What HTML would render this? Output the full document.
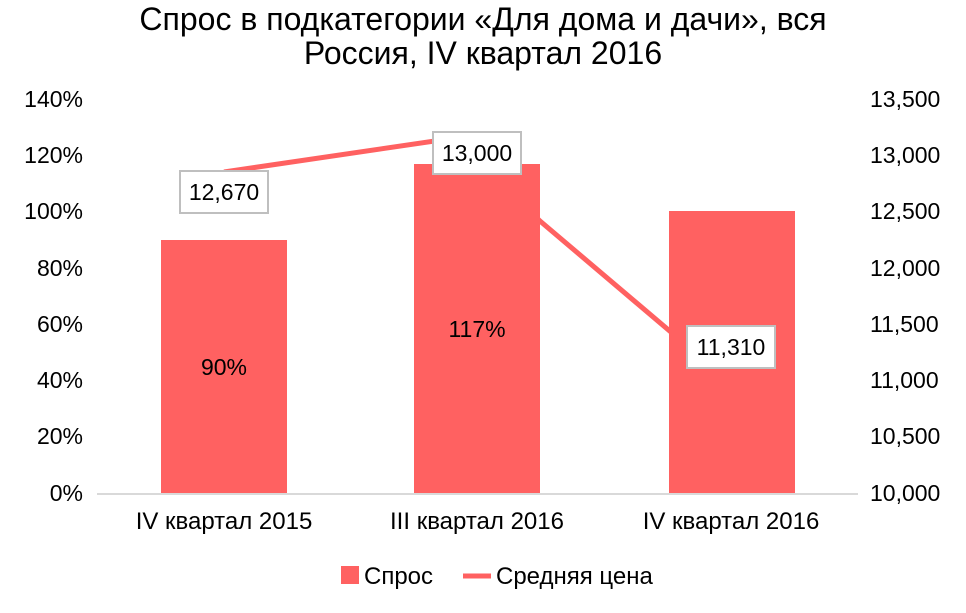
<!DOCTYPE html>
<html><head><meta charset="utf-8"><style>
body{margin:0;background:#fff}
svg text{font-family:"Liberation Sans",sans-serif;fill:#000}
</style></head><body>
<svg width="966" height="608" xmlns="http://www.w3.org/2000/svg">
<rect width="966" height="608" fill="#fff"/>
<text x="483" y="30" font-size="32" text-anchor="middle">Спрос в подкатегории «Для дома и дачи», вся</text>
<text x="483" y="64" font-size="32" text-anchor="middle">Россия, IV квартал 2016</text>
<g font-size="23" text-anchor="end">
<text x="83" y="107">140%</text><text x="83" y="163">120%</text><text x="83" y="219">100%</text>
<text x="83" y="276">80%</text><text x="83" y="332">60%</text><text x="83" y="388">40%</text>
<text x="83" y="444">20%</text><text x="83" y="501">0%</text>
</g>
<g font-size="23">
<text x="870" y="107">13,500</text><text x="870" y="163">13,000</text><text x="870" y="276">12,000</text>
<text x="870" y="219">12,500</text><text x="870" y="332">11,500</text><text x="870" y="388">11,000</text>
<text x="870" y="444">10,500</text><text x="870" y="501">10,000</text>
</g>
<polyline points="224,172 455,138 540,221 731,383" fill="none" stroke="#ff6161" stroke-width="5"/>
<rect x="161" y="240" width="126" height="254" fill="#ff6161"/>
<rect x="414" y="164" width="126" height="330" fill="#ff6161"/>
<rect x="669" y="211" width="126" height="283" fill="#ff6161"/>
<line x1="97" y1="494" x2="858" y2="494" stroke="#d9d9d9" stroke-width="2"/>
<g font-size="23" text-anchor="middle">
<text x="224" y="375">90%</text><text x="477" y="337">117%</text>
</g>
<g fill="#fff" stroke="#bfbfbf" stroke-width="2">
<rect x="180" y="171" width="88" height="42"/>
<rect x="433" y="132" width="88" height="42"/>
<rect x="687" y="326" width="88" height="42"/>
</g>
<g font-size="23" text-anchor="middle">
<text x="224" y="200">12,670</text><text x="477" y="161">13,000</text><text x="731" y="355">11,310</text>
</g>
<g font-size="24" text-anchor="middle">
<text x="224" y="529">IV квартал 2015</text><text x="477" y="529">III квартал 2016</text><text x="731" y="529">IV квартал 2016</text>
</g>
<rect x="341" y="566" width="18" height="18" fill="#ff6161"/>
<text x="364" y="584" font-size="24">Спрос</text>
<line x1="463" y1="576" x2="491" y2="576" stroke="#ff6161" stroke-width="5"/>
<text x="496" y="584" font-size="24">Средняя цена</text>
</svg>
</body></html>
